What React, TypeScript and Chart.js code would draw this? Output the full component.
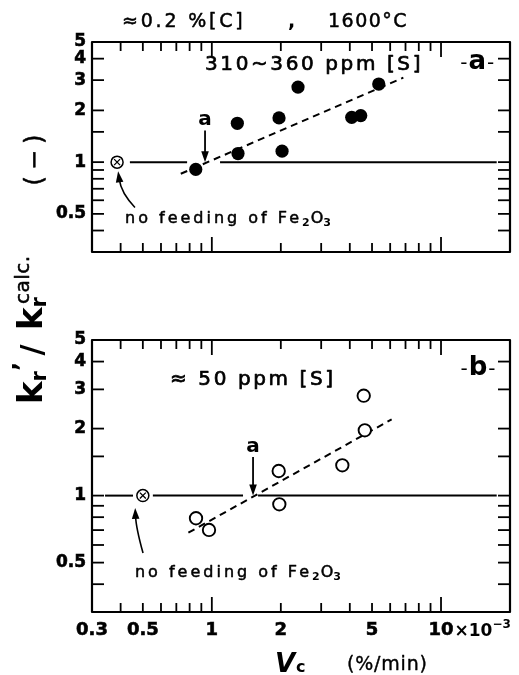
import React, { useEffect, useRef } from 'react';
import { Chart, registerables } from 'chart.js';

Chart.register(...registerables);

const W = 519;
const H = 675;
const FONT = "'DejaVu Sans', 'Liberation Sans', Arial, sans-serif";

// ---- axes ----
const X_MIN = 0.3;
const X_MAX = 20;
const Y_MIN = 0.3;
const Y_MAX = 5;
const X_TICKS = [0.3, 0.4, 0.5, 0.6, 0.7, 0.8, 0.9, 1, 2, 3, 4, 5, 6, 7, 8, 9, 10, 20];
const X_MAJOR = [1, 10];
const X_LABELS = [0.3, 0.5, 1, 2, 5, 10];
const Y_TICKS = [0.3, 0.4, 0.5, 0.6, 0.7, 0.8, 0.9, 1, 1.5, 2, 3, 4, 5];
const Y_LABELS = [0.5, 1, 2, 3, 4, 5];

// ---- panel a : 310~360 ppm [S] ----
const VC_A = [0.851, 1.292, 1.301, 1.964, 2.025, 2.377, 4.077, 4.464, 5.35];
const KR_A = [0.907, 1.683, 1.122, 1.809, 1.158, 2.732, 1.822, 1.866, 2.847];
const NOFEED_VC_A = [0.386];
const NOFEED_KR_A = [1];
const FIT_VC_A = [0.732, 6.85];
const FIT_KR_A = [0.856, 3.1];
const UNITY_SEG_A = [[0.439, 0.78], [1.086, 17.5]];

// ---- panel b : ≈ 50 ppm [S] ----
const VC_B = [0.853, 0.972, 1.958, 1.97, 3.71, 4.6, 4.65];
const KR_B = [0.791, 0.701, 1.29, 0.914, 1.368, 2.81, 1.965];
const NOFEED_VC_B = [0.5];
const NOFEED_KR_B = [1];
const FIT_VC_B = [0.79, 6.09];
const FIT_KR_B = [0.681, 2.2];
const UNITY_SEG_B = [[0.342, 0.453], [0.553, 1.368], [1.591, 17.5]];

// ---- annotations (data coordinates) ----
const NOTES = {
  a: {
    sulfur: { x: 0.934, y: 3.45, text: '310~360 ppm [S]' },
    tag: { x: 14.4, y: 3.49, text: 'a' },
    nofeed: { x: 0.418, y: 0.44 },
    arrow: { x: 0.934, yLabel: 1.64, yFrom: 1.53, yTo: 1.0 },
    curve: { from: [0.462, 0.545], ctrl: [0.402, 0.66], to: [0.39, 0.885] },
  },
  b: {
    sulfur: { x: 0.657, y: 3.14, text: '\u2248 50 ppm [S]' },
    tag: { x: 14.5, y: 3.48, text: 'b' },
    nofeed: { x: 0.462, y: 0.431 },
    arrow: { x: 1.513, yLabel: 1.57, yFrom: 1.49, yTo: 1.0 },
    curve: { from: [0.501, 0.552], ctrl: [0.467, 0.716], to: [0.463, 0.88] },
  },
};

type Seg = { t: string; f: string; dy?: number; dx?: number; ls?: number; sw?: number };

function drawRich(ctx: any, segs: Seg[], x: number, y: number, align: 'left' | 'center' | 'right' = 'left') {
  const ws = segs.map((s) => {
    ctx.font = s.f;
    ctx.letterSpacing = `${s.ls ?? 0}px`;
    return ctx.measureText(s.t).width + (s.dx ?? 0);
  });
  const total = ws.reduce((a, b) => a + b, 0);
  let cx = align === 'left' ? x : align === 'center' ? x - total / 2 : x - total;
  segs.forEach((s, i) => {
    ctx.font = s.f;
    ctx.letterSpacing = `${s.ls ?? 0}px`;
    ctx.fillText(s.t, cx + (s.dx ?? 0), y + (s.dy ?? 0));
    if (s.sw) {
      ctx.lineWidth = s.sw;
      ctx.strokeText(s.t, cx + (s.dx ?? 0), y + (s.dy ?? 0));
    }
    cx += ws[i];
  });
  ctx.letterSpacing = '0px';
}

function arrowHead(ctx: any, x: number, y: number, ang: number, len = 10, half = 3.5) {
  const c = Math.cos(ang);
  const s = Math.sin(ang);
  ctx.beginPath();
  ctx.moveTo(x, y);
  ctx.lineTo(x - len * c + half * s, y - len * s - half * c);
  ctx.lineTo(x - len * c - half * s, y - len * s + half * c);
  ctx.closePath();
  ctx.fill();
}

function seg(ctx: any, x1: number, y1: number, x2: number, y2: number) {
  ctx.beginPath();
  ctx.moveTo(x1, y1);
  ctx.lineTo(x2, y2);
  ctx.stroke();
}

function makePlugin(p: 'a' | 'b') {
  return {
    id: 'frame_' + p,
    afterDraw(chart: any) {
      const { ctx, chartArea: ca, scales } = chart;
      const xs = scales.x;
      const ys = scales.y;
      const X = (v: number) => xs.getPixelForValue(v);
      const Y = (v: number) => ys.getPixelForValue(v);
      ctx.save();
      ctx.strokeStyle = '#000';
      ctx.fillStyle = '#000';
      ctx.lineJoin = 'round';
      ctx.lineWidth = 2.2;
      ctx.strokeRect(ca.left, ca.top, ca.right - ca.left, ca.bottom - ca.top);
      ctx.lineWidth = 1.8;
      Y_TICKS.forEach((v) => {
        if (v <= Y_MIN || v >= Y_MAX) return;
        const py = Y(v);
        seg(ctx, ca.left, py, ca.left + 12, py);
        seg(ctx, ca.right - 12, py, ca.right, py);
      });
      X_TICKS.forEach((v) => {
        if (v <= X_MIN || v >= X_MAX) return;
        const px = X(v);
        const L = X_MAJOR.includes(v) ? 15 : 9;
        seg(ctx, px, ca.top, px, ca.top + L);
        seg(ctx, px, ca.bottom - L, px, ca.bottom);
      });

      const n = NOTES[p];
      ctx.textBaseline = 'alphabetic';
      ctx.textAlign = 'left';
      // sulfur label
      drawRich(ctx, [{ t: n.sulfur.text, f: `20px ${FONT}`, ls: 2.6, sw: 0.7 }], X(n.sulfur.x), Y(n.sulfur.y));
      // panel tag -a- / -b-
      drawRich(
        ctx,
        [
          { t: '-', f: `20px ${FONT}` },
          { t: n.tag.text, f: `bold 26px ${FONT}`, dx: 1 },
          { t: '-', f: `20px ${FONT}`, dx: 1 },
        ],
        X(n.tag.x),
        Y(n.tag.y),
        'center'
      );
      // no feeding of Fe2O3
      drawRich(
        ctx,
        [
          { t: 'no feeding of Fe', f: `16px ${FONT}`, ls: 3, sw: 0.5 },
          { t: '2', f: `bold 11px ${FONT}`, dy: 3 },
          { t: 'O', f: `16px ${FONT}`, dx: 1, sw: 0.5 },
          { t: '3', f: `bold 11px ${FONT}`, dy: 3 },
        ],
        X(n.nofeed.x),
        Y(n.nofeed.y)
      );
      // arrow "a"
      const ax = X(n.arrow.x);
      drawRich(ctx, [{ t: 'a', f: `bold 20px ${FONT}` }], ax, Y(n.arrow.yLabel), 'center');
      ctx.lineWidth = 1.8;
      const y1 = Y(n.arrow.yFrom);
      const y2 = Y(n.arrow.yTo);
      seg(ctx, ax, y1, ax, y2 - 8);
      arrowHead(ctx, ax, y2, Math.PI / 2, 11, 3.8);
      // curved arrow
      const [fx, fy] = [X(n.curve.from[0]), Y(n.curve.from[1])];
      const [cx, cy] = [X(n.curve.ctrl[0]), Y(n.curve.ctrl[1])];
      const [tx, ty] = [X(n.curve.to[0]), Y(n.curve.to[1])];
      const ang = Math.atan2(ty - cy, tx - cx);
      ctx.lineWidth = 1.6;
      ctx.beginPath();
      ctx.moveTo(fx, fy);
      ctx.quadraticCurveTo(cx, cy, tx - 8 * Math.cos(ang), ty - 8 * Math.sin(ang));
      ctx.stroke();
      arrowHead(ctx, tx, ty, ang, 11, 3.8);

      if (p === 'a') {
        // title above panel a
        const ty0 = ca.top - 15;
        drawRich(ctx, [{ t: '\u22480.2 %[C]', f: `19px ${FONT}`, ls: 2.8, sw: 0.5 }], 122, ty0);
        drawRich(ctx, [{ t: ',', f: `bold 19px ${FONT}` }], 288, ty0);
        drawRich(ctx, [{ t: '1600\u00B0C', f: `19px ${FONT}`, ls: 1.5, sw: 0.5 }], 328, ty0);
      } else {
        // ×10^-3 after the "10" tick label
        ctx.font = `bold 18px ${FONT}`;
        const w10 = ctx.measureText('10').width;
        const by = ca.bottom + 24;
        drawRich(
          ctx,
          [
            { t: '\u00D710', f: `bold 17px ${FONT}` },
            { t: '\u22123', f: `bold 12px ${FONT}`, dy: -8 },
          ],
          X(10) + w10 / 2 + 1,
          by
        );
        // x-axis title
        drawRich(
          ctx,
          [
            { t: 'V', f: `italic bold 26px ${FONT}` },
            { t: 'c', f: `bold 16px ${FONT}`, dx: 1 },
          ],
          275,
          H - 3
        );
        drawRich(ctx, [{ t: '(%/min)', f: `19px ${FONT}`, ls: 0.8, sw: 0.4 }], 347, H - 5);
        // y-axis title (spans both panels)
        ctx.save();
        ctx.translate(42, 404);
        ctx.rotate(-Math.PI / 2);
        drawRich(
          ctx,
          [
            { t: 'k', f: `bold 34px ${FONT}` },
            { t: 'r', f: `bold 21px ${FONT}`, dy: 4 },
            { t: '\u2019', f: `bold 24px ${FONT}`, dy: -12 },
            { t: ' / ', f: `bold 30px ${FONT}`, dx: -4 },
            { t: 'k', f: `bold 34px ${FONT}`, dx: 4 },
            { t: 'r', f: `bold 21px ${FONT}`, dy: 4 },
            { t: 'calc.', f: `20px ${FONT}`, dy: -13, dx: -7, ls: 0.5, sw: 0.5 },
            { t: '(\u2212)', f: `24px ${FONT}`, dx: 70, ls: 6, sw: 0.5 },
          ],
          0,
          0
        );
        ctx.restore();
      }
      ctx.restore();
    },
  };
}

function makeConfig(p: 'a' | 'b'): any {
  const isA = p === 'a';
  const vc = isA ? VC_A : VC_B;
  const kr = isA ? KR_A : KR_B;
  const nvc = isA ? NOFEED_VC_A : NOFEED_VC_B;
  const nkr = isA ? NOFEED_KR_A : NOFEED_KR_B;
  const fvc = isA ? FIT_VC_A : FIT_VC_B;
  const fkr = isA ? FIT_KR_A : FIT_KR_B;
  const unity = isA ? UNITY_SEG_A : UNITY_SEG_B;

  const datasets: any[] = [
    {
      data: vc.map((x, i) => ({ x, y: kr[i] })),
      pointStyle: 'circle',
      pointRadius: isA ? 6.6 : 6.2,
      backgroundColor: isA ? '#000' : '#fff',
      borderColor: '#000',
      borderWidth: isA ? 0 : 1.9,
      order: 0,
    },
    {
      data: nvc.map((x, i) => ({ x, y: nkr[i] })),
      pointStyle: 'crossRot',
      pointRadius: 4.2,
      borderColor: '#000',
      borderWidth: 1.3,
      order: 0,
    },
    {
      data: nvc.map((x, i) => ({ x, y: nkr[i] })),
      pointStyle: 'circle',
      pointRadius: 6,
      backgroundColor: '#fff',
      borderColor: '#000',
      borderWidth: 1.5,
      order: 0,
    },
    {
      data: fvc.map((x, i) => ({ x, y: fkr[i] })),
      showLine: true,
      pointRadius: 0,
      borderColor: '#000',
      borderWidth: 2,
      borderDash: [7, 5],
      order: 1,
    },
    ...unity.map((s) => ({
      data: s.map((x) => ({ x, y: 1 })),
      showLine: true,
      pointRadius: 0,
      borderColor: '#000',
      borderWidth: 2,
      order: 1,
    })),
  ];

  return {
    type: 'scatter',
    data: { datasets },
    options: {
      responsive: false,
      animation: false,
      events: [],
      layout: {
        padding: isA ? { top: 42, right: 9, bottom: 360, left: 0 } : { top: 340, right: 9, bottom: 0, left: 0 },
      },
      plugins: { legend: { display: false }, tooltip: { enabled: false } },
      scales: {
        x: {
          type: 'logarithmic',
          min: X_MIN,
          max: X_MAX,
          position: 'bottom',
          display: !isA,
          afterBuildTicks: (s: any) => {
            s.ticks = X_TICKS.map((v) => ({ value: v }));
          },
          afterFit: (s: any) => {
            s.height = 63;
            s.paddingLeft = 0;
            s.paddingRight = 0;
          },
          grid: { display: false, drawTicks: false },
          border: { display: false },
          ticks: {
            autoSkip: false,
            maxRotation: 0,
            minRotation: 0,
            padding: 8,
            color: '#000',
            textStrokeColor: '#000',
            textStrokeWidth: 0.6,
            font: { family: FONT, weight: 'bold', size: 18 },
            callback: (v: any) => (X_LABELS.includes(v) ? String(v) : ''),
          },
        },
        y: {
          type: 'logarithmic',
          min: Y_MIN,
          max: Y_MAX,
          position: 'left',
          afterBuildTicks: (s: any) => {
            s.ticks = Y_TICKS.map((v) => ({ value: v }));
          },
          afterFit: (s: any) => {
            s.width = 92;
            s.paddingTop = 0;
            s.paddingBottom = 0;
          },
          grid: { display: false, drawTicks: false },
          border: { display: false },
          ticks: {
            autoSkip: false,
            padding: 6,
            color: '#000',
            textStrokeColor: '#000',
            textStrokeWidth: 0.6,
            font: { family: FONT, weight: 'bold', size: 17 },
            callback: (v: any) => (Y_LABELS.includes(v) ? String(v) : ''),
          },
        },
      },
    },
    plugins: [makePlugin(p)],
  };
}

export default function App() {
  const refA = useRef<HTMLCanvasElement>(null);
  const refB = useRef<HTMLCanvasElement>(null);
  useEffect(() => {
    const chB = new Chart(refB.current as HTMLCanvasElement, makeConfig('b'));
    const chA = new Chart(refA.current as HTMLCanvasElement, makeConfig('a'));
    return () => {
      chA.destroy();
      chB.destroy();
    };
  }, []);
  const st: React.CSSProperties = { position: 'absolute', left: 0, top: 0, width: W, height: H, display: 'block' };
  return (
    <div style={{ position: 'absolute', left: 0, top: 0, width: W, height: H, background: '#fff' }}>
      <canvas ref={refB} width={W} height={H} style={st} />
      <canvas ref={refA} width={W} height={H} style={st} />
    </div>
  );
}
